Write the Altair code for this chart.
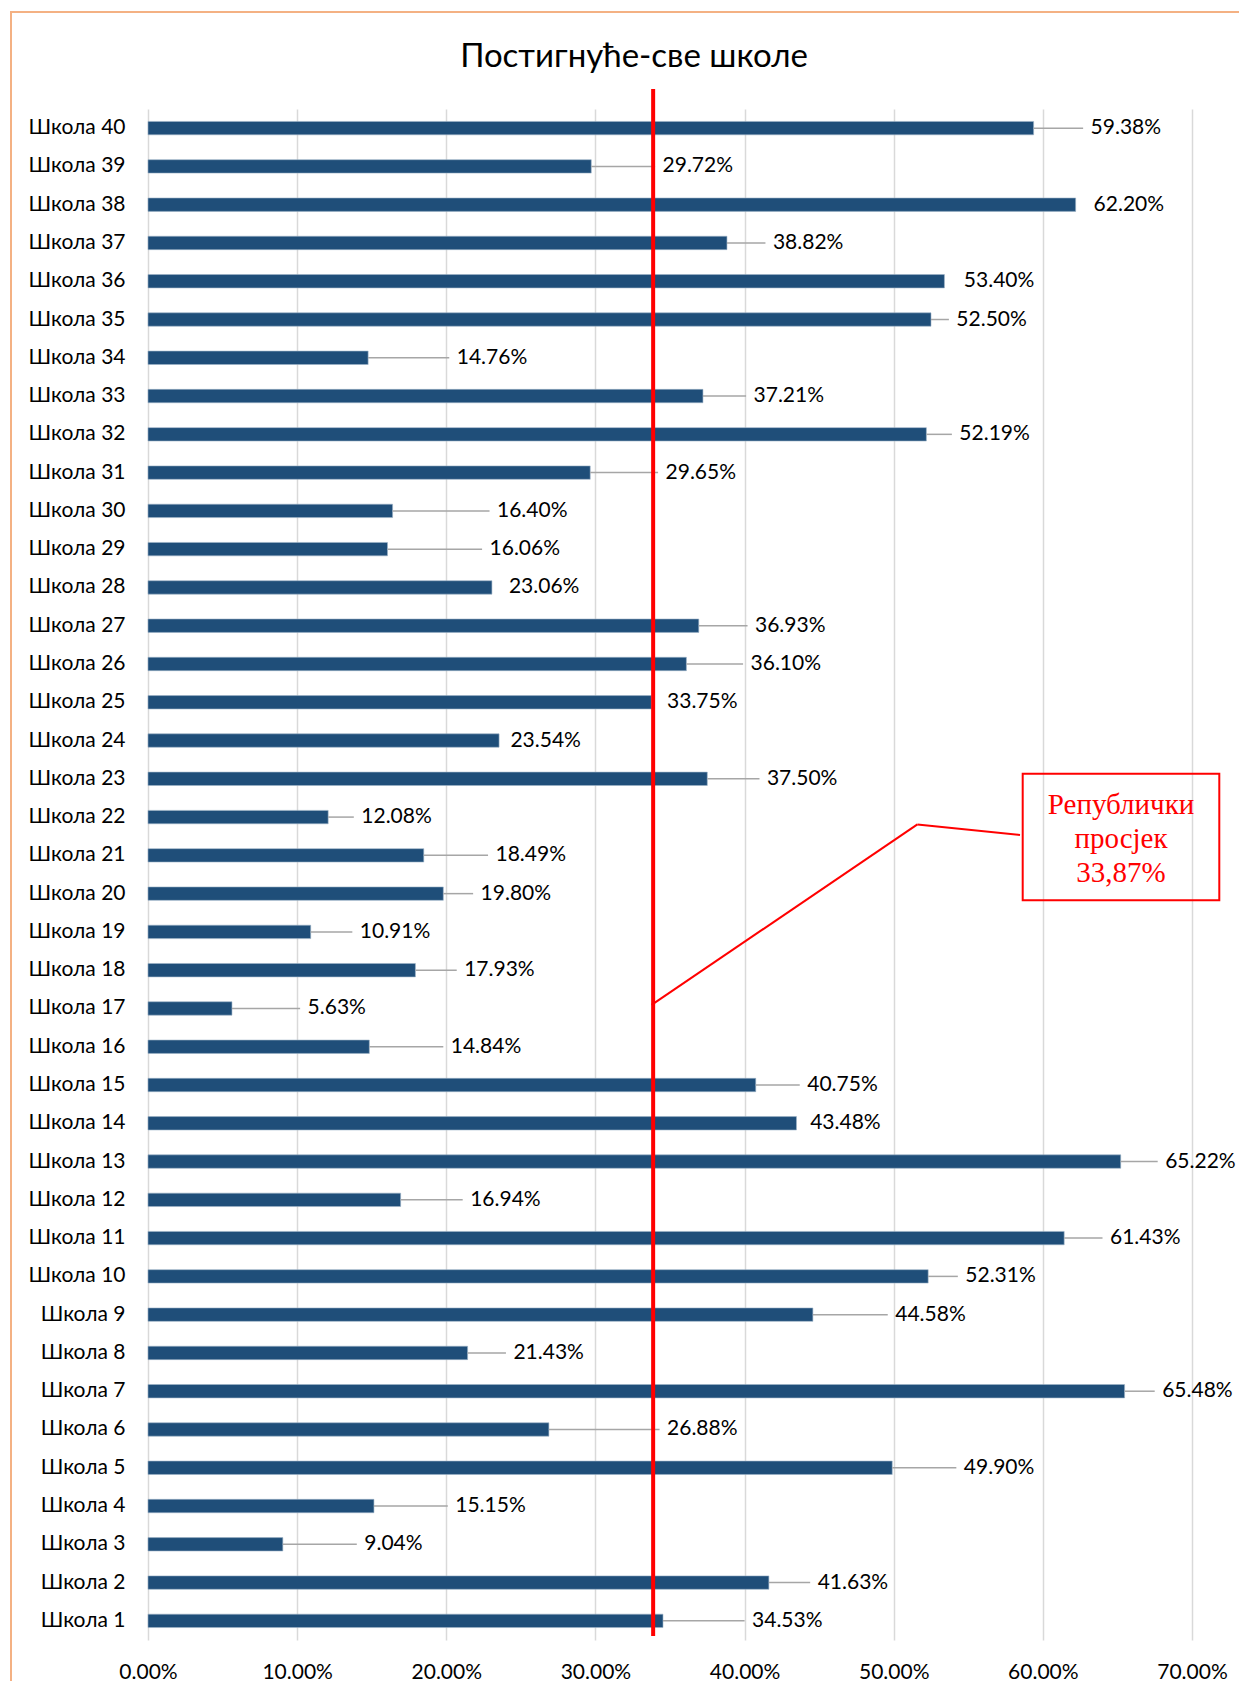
import altair as alt
import pandas as pd

# ---- data (Школа 1 .. Школа 40) ----
schools = [f"Школа {i}" for i in range(1, 41)]
values = [34.53, 41.63, 9.04, 15.15, 49.90, 26.88, 65.48, 21.43, 44.58, 52.31,
          61.43, 16.94, 65.22, 43.48, 40.75, 14.84, 5.63, 17.93, 10.91, 19.80,
          18.49, 12.08, 37.50, 23.54, 33.75, 36.10, 36.93, 23.06, 16.06, 16.40,
          29.65, 52.19, 37.21, 14.76, 52.50, 53.40, 38.82, 62.20, 29.72, 59.38]
# where each data label sits (in axis units, %), as placed in the original
label_at = [40.5, 44.9, 14.5, 20.6, 54.7, 34.8, 68.0, 24.5, 50.1, 54.8,
            64.5, 21.6, 68.2, 44.4, 44.2, 20.3, 10.7, 21.2, 14.2, 22.3,
            23.3, 14.3, 41.5, 24.3, 34.8, 40.4, 40.7, 24.2, 22.9, 23.4,
            34.7, 54.4, 40.6, 20.7, 54.2, 54.7, 41.9, 63.4, 34.5, 63.2]
x_ticks = [0, 10, 20, 30, 40, 50, 60, 70]
national_avg = 33.87
title_text = "Постигнуће-све школе"
note_text = "Републички\nпросјек\n33,87%"

df = pd.DataFrame({"school": schools, "value": values, "label_x": label_at})
df["label"] = df["value"].map(lambda v: f"{v:.2f}%")
df["leader_end"] = df["label_x"] - 0.5
leaders = df[(df["label_x"] - df["value"]) > 1.4]

order = schools[::-1]
W, H = 1044, 1531
FONT = "Lato"

xscale = alt.Scale(domain=[0, 70], nice=False, zero=True)
yenc = alt.Y("school:N", sort=order,
             scale=alt.Scale(paddingInner=0.65, paddingOuter=0.325),
             axis=alt.Axis(title=None, labelFontSize=21, labelFont=FONT,
                           labelColor="#000000", domain=False, ticks=False,
                           labelPadding=23, grid=False))

bars = alt.Chart(df).mark_bar(color="#1F4E79", stroke="#9DB3C8", strokeWidth=0.6).encode(
    x=alt.X("value:Q", scale=xscale,
            axis=alt.Axis(title=None, values=x_ticks, grid=True, gridColor="#D9D9D9",
                          gridWidth=1.5, domain=False, ticks=False, labelPadding=21,
                          labelFontSize=21, labelFont=FONT, labelColor="#000000",
                          labelFlush=False,
                          labelExpr="format(datum.value, '.2f') + '%'")),
    y=yenc,
)

leader = alt.Chart(leaders).mark_rule(color="#A6A6A6", strokeWidth=1.5).encode(
    x="value:Q", x2="leader_end:Q", y=alt.Y("school:N", sort=order)
)

labels = alt.Chart(df).mark_text(align="left", baseline="middle", fontSize=21,
                                 font=FONT, color="#000000").encode(
    x="label_x:Q", y=alt.Y("school:N", sort=order), text="label:N"
)

one = alt.Data(values=[{"v": national_avg}])

avg_line = alt.Chart(one).mark_rule(color="#FF0000", strokeWidth=4).encode(
    x="v:Q", y=alt.value(-20), y2=alt.value(1527)
)

title = alt.Chart(alt.Data(values=[{"t": title_text}])).mark_text(
    fontSize=33, font=FONT, color="#000000", baseline="middle", align="center"
).encode(x=alt.value(486), y=alt.value(-52), text="t:N")

border = alt.Chart(alt.Data(values=[{}])).mark_rect(
    fill=None, stroke="#F4B183", strokeWidth=2
).encode(x=alt.value(-137), x2=alt.value(1300), y=alt.value(-97), y2=alt.value(1700))

note_box = alt.Chart(alt.Data(values=[{}])).mark_rect(
    fill=None, stroke="#FF0000", strokeWidth=2
).encode(x=alt.value(874.7), x2=alt.value(1071.3), y=alt.value(664.7), y2=alt.value(791.3))

note_text_layer = alt.Chart(alt.Data(values=[{"t": note_text}])).mark_text(
    fontSize=29, font="Liberation Serif", color="#FF0000", align="center",
    baseline="alphabetic", lineBreak="\n", lineHeight=34
).encode(x=alt.value(973), y=alt.value(704.7), text="t:N")

call1 = alt.Chart(alt.Data(values=[{}])).mark_rule(color="#FF0000", strokeWidth=2).encode(
    x=alt.value(872), x2=alt.value(769.4), y=alt.value(726), y2=alt.value(715.4))
call2 = alt.Chart(alt.Data(values=[{}])).mark_rule(color="#FF0000", strokeWidth=2).encode(
    x=alt.value(769.4), x2=alt.value(503.6), y=alt.value(715.4), y2=alt.value(895.9))

chart = alt.layer(
    border, bars, leader, labels, avg_line, call1, call2, note_box, note_text_layer, title
).properties(
    width=W, height=H,
    autosize=alt.AutoSizeParams(type="none"),
    padding={"left": 140, "top": 101, "right": 47, "bottom": 41},
).configure(background="#FFFFFF").configure_view(stroke=None)

chart.save("out.html", embed_options={"renderer": "svg", "actions": False})
